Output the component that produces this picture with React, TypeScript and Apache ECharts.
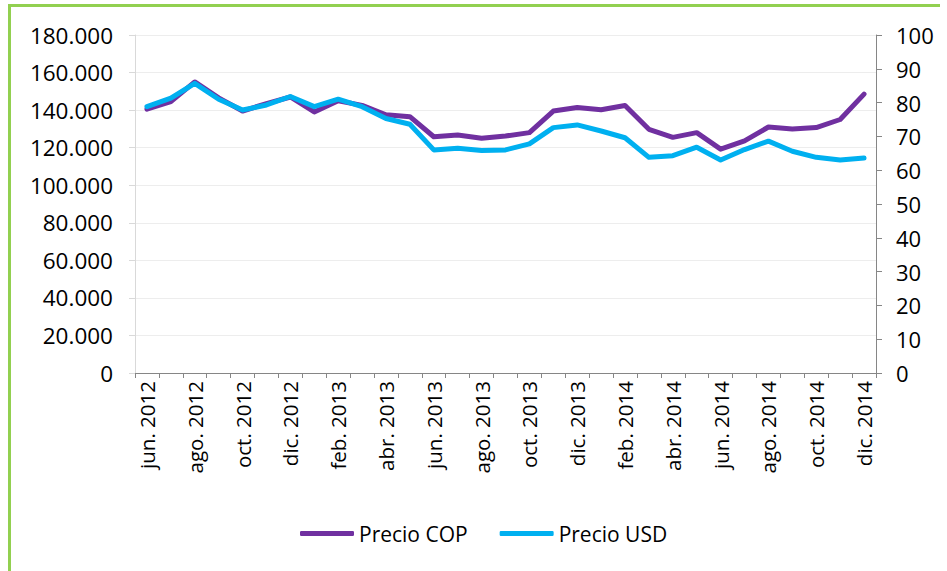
import React, { useEffect, useRef } from "react";
import * as echarts from "echarts";

const categories = [
  "jun. 2012", "jul. 2012", "ago. 2012", "sep. 2012", "oct. 2012", "nov. 2012", "dic. 2012",
  "ene. 2013", "feb. 2013", "mar. 2013", "abr. 2013", "may. 2013", "jun. 2013", "jul. 2013",
  "ago. 2013", "sep. 2013", "oct. 2013", "nov. 2013", "dic. 2013",
  "ene. 2014", "feb. 2014", "mar. 2014", "abr. 2014", "may. 2014", "jun. 2014", "jul. 2014",
  "ago. 2014", "sep. 2014", "oct. 2014", "nov. 2014", "dic. 2014",
];

const precioCOP = [
  140500, 144500, 155000, 146500, 139500, 143500, 147000,
  139000, 145000, 142500, 137500, 136500, 125800, 126700,
  125000, 126200, 128000, 139500, 141400,
  140200, 142500, 129800, 125500, 128000, 119200, 123600,
  131000, 130000, 130700, 135000, 148500,
];

const precioUSD = [
  78.8, 81.3, 85.7, 81.0, 77.8, 79.3, 81.8,
  78.8, 81.0, 78.8, 75.3, 73.6, 66.0, 66.5,
  65.8, 66.0, 67.8, 72.6, 73.4,
  71.6, 69.6, 63.8, 64.3, 66.8, 63.0, 66.1,
  68.6, 65.6, 63.8, 63.0, 63.6,
];

const seriesNames = ["Precio COP", "Precio USD"];

const FONT = "'Open Sans', 'Liberation Sans', sans-serif";

function fmtThousands(v: number): string {
  return String(Math.round(v)).replace(/\B(?=(\d{3})+(?!\d))/g, ".");
}

export default function App() {
  const ref = useRef<HTMLDivElement>(null);
  useEffect(() => {
    if (!ref.current) return;
    const chart = echarts.init(ref.current, null, { renderer: "svg" });
    chart.setOption({
      animation: false,
      backgroundColor: "#ffffff",
      textStyle: { fontFamily: FONT },
      graphic: [
        { type: "line", shape: { x1: 8, y1: 5.5, x2: 940, y2: 5.5 }, style: { stroke: "#92D050", lineWidth: 3 } },
        { type: "line", shape: { x1: 9.5, y1: 4, x2: 9.5, y2: 571 }, style: { stroke: "#92D050", lineWidth: 3 } },
      ],
      grid: { left: 135, right: 71, top: 35, bottom: 198, containLabel: false },
      legend: {
        data: seriesNames,
        left: 295,
        top: 518,
        itemWidth: 54,
        itemHeight: 5,
        itemGap: 32,
        icon: "roundRect",
        textStyle: { fontFamily: FONT, fontSize: 21, color: "#000" },
      },
      xAxis: {
        type: "category",
        data: categories,
        boundaryGap: true,
        axisLine: { lineStyle: { color: "#868686", width: 1 } },
        axisTick: { show: true, interval: 0, length: 5, lineStyle: { color: "#868686" } },
        axisLabel: {
          interval: 1,
          rotate: 90,
          margin: 8,
          fontSize: 20.5,
          fontFamily: FONT,
          color: "#000",
        },
      },
      yAxis: [
        {
          type: "value",
          min: 0,
          max: 180000,
          interval: 20000,
          position: "left",
          axisLine: { show: true, lineStyle: { color: "#D9D9D9" } },
          axisTick: { show: true, length: 6, lineStyle: { color: "#D9D9D9" } },
          splitLine: { show: true, lineStyle: { color: "#EDEDED", width: 1 } },
          axisLabel: {
            margin: 22,
            fontSize: 22.5,
            fontFamily: FONT,
            color: "#000",
            formatter: (v: number) => fmtThousands(v),
          },
        },
        {
          type: "value",
          min: 0,
          max: 100,
          interval: 10,
          position: "right",
          axisLine: { show: true, lineStyle: { color: "#868686" } },
          axisTick: { show: true, length: 6, lineStyle: { color: "#868686" } },
          splitLine: { show: false },
          axisLabel: {
            margin: 20,
            fontSize: 22,
            fontFamily: FONT,
            color: "#000",
          },
        },
      ],
      series: [
        {
          name: seriesNames[0],
          type: "line",
          yAxisIndex: 0,
          data: precioCOP,
          showSymbol: false,
          symbol: "none",
          lineStyle: { color: "#7030A0", width: 5, cap: "round", join: "round" },
          itemStyle: { color: "#7030A0" },
        },
        {
          name: seriesNames[1],
          type: "line",
          yAxisIndex: 1,
          data: precioUSD,
          showSymbol: false,
          symbol: "none",
          lineStyle: { color: "#00B0F0", width: 5, cap: "round", join: "round" },
          itemStyle: { color: "#00B0F0" },
        },
      ],
    });
    return () => chart.dispose();
  }, []);
  return (
    <div
      ref={ref}
      style={{ position: "absolute", left: 0, top: 0, width: 947, height: 571 }}
    />
  );
}
